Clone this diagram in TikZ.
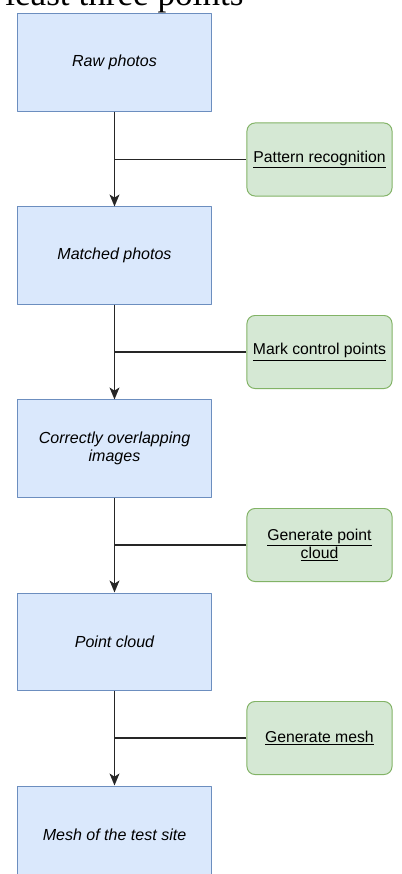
\documentclass[tikz,border=0pt]{standalone}
\usepackage{fontspec}
\setmainfont{Liberation Sans}
\newfontfamily\headserif{Liberation Serif}
\usetikzlibrary{arrows.meta,positioning}
\definecolor{stagefill}{HTML}{DAE8FC}
\definecolor{stageline}{HTML}{6C8EBF}
\definecolor{toolfill}{HTML}{D5E8D4}
\definecolor{toolline}{HTML}{82B366}
\tikzset{
  every picture/.style={line join=round, >={Stealth[length=8.5pt,width=7pt,inset=2.2pt]}},
  stage/.style={draw=stageline, fill=stagefill, line width=0.7pt, minimum width=4.825cm,
    minimum height=2.425cm, align=center, font=\fontsize{11.4}{12.8}\selectfont\itshape},
  tool/.style={draw=toolline, fill=toolfill, line width=0.7pt, rounded corners=0.2cm,
    minimum width=3.625cm, minimum height=1.825cm, align=center, font=\fontsize{11.2}{12.8}\selectfont},
  flow/.style={line width=0.9pt, draw=black!85},
}

\begin{document}
\begin{tikzpicture}[x=0.025cm,y=-0.025cm]
\useasboundingbox (0,0) rectangle (401,874);
% tail of the line above
\node[anchor=base west, inner sep=0, font=\headserif\fontsize{25}{25}\selectfont] (heading) at (5,6) {least three points};
% processing stages
\node[stage] (raw) at (114.5,62.5) {Raw photos};
\node[stage] (matched) at (114.5,255.5) {Matched photos};
\node[stage] (overlap) at (114.5,448.5) {Correctly overlapping\\images};
\node[stage] (cloud) at (114.5,641.5) {Point cloud};
\node[stage] (mesh) at (114.5,834.5) {Mesh of the test site};
% tools
\node[tool] (pattern) at (319.5,159.5) {\underline{Pattern recognition}};
\node[tool] (marks) at (319.5,352) {\underline{Mark control points}};
\node[tool] (gencloud) at (319.5,545) {\underline{Generate point}\\\underline{cloud}};
\node[tool] (genmesh) at (319.5,738) {\underline{Generate mesh}};
% flow
\draw[flow,->] (raw) -- (matched);
\draw[flow,->] (matched) -- (overlap);
\draw[flow,->] (overlap) -- (cloud);
\draw[flow,->] (cloud) -- (mesh);
\draw[flow] (pattern) -- (pattern -| raw);
\draw[flow] (marks) -- (marks -| matched);
\draw[flow] (gencloud) -- (gencloud -| overlap);
\draw[flow] (genmesh) -- (genmesh -| cloud);
\end{tikzpicture}
\end{document}
